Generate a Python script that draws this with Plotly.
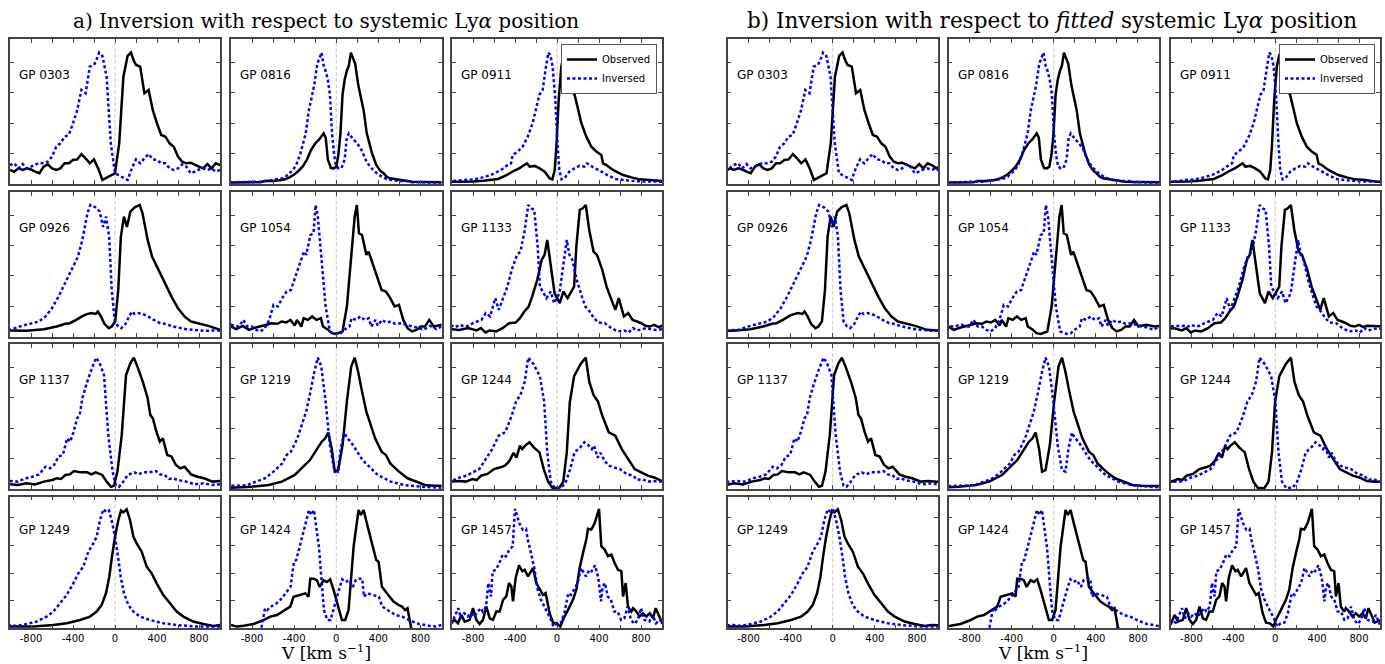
import plotly.graph_objects as go

# ---------------- data (velocity in km/s, flux normalised to panel height) ----------------
names = ['GP 0303', 'GP 0816', 'GP 0911', 'GP 0926', 'GP 1054', 'GP 1133',
         'GP 1137', 'GP 1219', 'GP 1244', 'GP 1249', 'GP 1424', 'GP 1457']
# offset of fitted systemic position (km/s) used in panel group b)
shifts = [-59, -42, -26, -105, -121, -125, -92, -97, -124, -63, -100, -50]

v0303 = [-1000,-960,-920,-880,-840,-800,-760,-720,-680,-640,-600,-560,-520,-480,-440,-400,-360,-320,-280,-240,-200,-160,-120,-80,-40,0,40,80,120,152,180,200,240,280,320,360,400,440,480,520,560,600,640,680,720,760,800,840,880,920,960,1000,1040,1080,1120,1160]
f0303 = [.097,.085,.108,.097,.108,.100,.085,.074,.120,.136,.108,.097,.108,.143,.143,.166,.170,.207,.177,.143,.170,.108,.028,.044,.062,.074,.281,.742,.885,.908,.850,.823,.811,.627,.650,.510,.420,.339,.327,.281,.258,.189,.154,.143,.147,.131,.120,.108,.138,.108,.143,.131,.110,.120,.100,.110]

v0816 = [-1000,-900,-800,-720,-680,-600,-520,-480,-440,-400,-360,-320,-280,-240,-200,-160,-120,-100,-80,-50,-25,0,20,40,60,80,100,120,139,160,180,210,240,260,290,320,340,380,420,450,480,510,560,600,660,720,800,880,960,1000,1080,1160]
f0816 = [.010,.012,.010,.012,.020,.020,.028,.035,.048,.065,.090,.120,.166,.235,.280,.310,.350,.320,.170,.110,.108,.120,.200,.350,.620,.720,.780,.820,.908,.870,.830,.680,.580,.510,.350,.260,.212,.131,.090,.074,.050,.039,.032,.028,.022,.016,.014,.010,.012,.010,.010,.010]

v0911 = [-1000,-900,-800,-700,-640,-560,-480,-440,-400,-360,-320,-286,-260,-213,-165,-117,-70,-44,-22,-6,16,41,63,83,105,137,168,200,232,279,327,375,422,438,470,533,629,708,787,883,1000,1080,1160]
f0911 = [.016,.016,.018,.022,.028,.035,.062,.080,.095,.108,.125,.143,.120,.125,.108,.085,.039,.032,.097,.259,.580,.810,.890,.908,.810,.650,.616,.510,.420,.327,.258,.224,.200,.143,.131,.097,.062,.046,.032,.028,.016,.015,.015]

v0926 = [-1000,-843,-678,-555,-472,-431,-369,-307,-266,-225,-184,-163,-134,-101,-60,-31,2,31,56,85,113,146,188,235,262,311,353,414,476,538,600,662,724,806,889,1000,1080,1160]
f0926 = [.042,.040,.051,.069,.088,.092,.115,.143,.155,.162,.157,.173,.139,.088,.058,.069,.104,.323,.693,.831,.760,.866,.896,.912,.855,.670,.554,.462,.370,.277,.196,.139,.104,.088,.074,.046,.042,.040]

v1054 = [-1000,-950,-889,-830,-765,-720,-662,-620,-559,-520,-476,-435,-394,-373,-332,-310,-270,-229,-188,-146,-126,-85,-43,-2,60,101,142,175,196,216,245,286,307,328,369,431,472,513,555,596,637,678,720,761,802,843,884,926,1000,1080,1160]
f1054 = [.069,.051,.074,.046,.062,.069,.081,.092,.088,.104,.097,.115,.076,.115,.069,.127,.115,.139,.115,.127,.069,.051,.023,.018,.035,.208,.577,.831,.912,.716,.704,.566,.589,.543,.462,.323,.312,.266,.208,.219,.115,.058,.035,.046,.069,.069,.115,.069,.081,.070,.075]

v1133 = [-1000,-930,-847,-765,-724,-682,-640,-579,-518,-456,-394,-353,-311,-270,-237,-188,-146,-118,-93,-64,-23,27,60,101,163,184,217,245,274,307,348,381,431,472,513,555,588,608,637,678,720,761,802,843,884,926,967,1000,1080,1160]
f1133 = [.051,.046,.058,.042,.058,.028,.042,.035,.058,.092,.097,.127,.173,.208,.277,.393,.531,.566,.670,.508,.300,.231,.312,.266,.346,.624,.878,.889,.912,.739,.589,.566,.462,.346,.266,.185,.266,.219,.139,.162,.115,.104,.092,.074,.069,.081,.065,.074,.070,.070]

v1137 = [-1000,-926,-843,-761,-678,-596,-555,-514,-472,-431,-390,-328,-266,-225,-184,-122,-80,-39,-10,23,64,105,146,179,220,270,311,336,361,394,427,456,497,538,580,621,662,724,786,847,930,1000,1080,1160]
f1137 = [.032,.028,.039,.032,.051,.062,.074,.069,.097,.101,.124,.115,.115,.101,.115,.097,.051,.016,.023,.120,.373,.788,.869,.908,.834,.730,.627,.512,.488,.396,.327,.350,.235,.224,.166,.143,.154,.101,.085,.074,.051,.055,.050,.050]

v1219 = [-1000,-806,-641,-517,-394,-311,-250,-188,-138,-105,-76,-43,-14,19,60,101,142,175,208,245,286,328,369,431,472,513,596,678,761,843,926,1000,1080,1160]
f1219 = [.009,.016,.028,.051,.097,.154,.200,.270,.327,.350,.390,.280,.120,.131,.304,.604,.846,.908,.811,.673,.535,.442,.350,.258,.235,.177,.120,.074,.051,.028,.023,.023,.020,.020]

v1244 = [-1000,-930,-868,-806,-765,-724,-662,-600,-538,-497,-456,-414,-386,-353,-332,-303,-262,-221,-167,-126,-85,-43,19,60,93,122,163,225,274,307,348,390,431,493,555,617,678,740,802,864,926,1000,1080,1160]
f1244 = [.051,.055,.051,.069,.062,.092,.104,.138,.150,.161,.190,.250,.217,.300,.276,.300,.323,.288,.253,.138,.051,.009,.005,.051,.253,.600,.780,.864,.908,.742,.650,.604,.507,.392,.369,.276,.207,.138,.115,.092,.080,.055,.050,.050]

v1249 = [-1000,-778,-587,-460,-333,-238,-175,-127,-86,-54,-29,0,32,57,79,111,143,175,206,254,302,349,397,460,524,587,651,746,841,937,1000,1080,1160]
f1249 = [.013,.013,.025,.038,.063,.089,.127,.177,.266,.392,.544,.696,.823,.894,.881,.904,.823,.696,.646,.582,.468,.418,.342,.253,.190,.127,.089,.051,.033,.018,.025,.020,.020]

v1424 = [-1000,-943,-880,-785,-690,-627,-563,-500,-437,-405,-342,-294,-263,-247,-215,-184,-158,-120,-89,-57,-25,22,54,85,117,165,212,234,260,291,339,380,402,434,481,544,592,624,655,677,709,740,800,900,1000,1080,1160]
f1424 = [.025,.013,.020,.033,.063,.089,.101,.134,.165,.240,.253,.266,.240,.377,.377,.365,.314,.365,.352,.372,.290,.165,.063,.063,.139,.620,.899,.861,.899,.797,.646,.519,.506,.316,.266,.203,.177,.165,.139,.152,.013,-.050,-.080,-.080,-.080,-.080,-.080]

v1457 = [-1000,-975,-943,-911,-879,-832,-800,-768,-737,-705,-673,-641,-610,-578,-546,-514,-483,-457,-435,-419,-394,-362,-330,-308,-276,-229,-197,-165,-133,-108,-70,-38,0,32,63,105,152,184,216,248,279,295,327,359,375,400,422,454,486,518,549,581,613,629,654,676,708,724,756,787,819,851,883,914,940,978,1000,1080,1160]
f1457 = [.051,.064,.038,.102,.051,.064,.153,.064,.033,.064,.165,.076,.064,.127,.127,.216,.242,.344,.318,.204,.382,.478,.433,.445,.394,.458,.344,.293,.254,.267,.115,.043,.038,.013,.076,.140,.216,.293,.458,.573,.674,.756,.750,.800,.840,.908,.623,.598,.547,.560,.496,.445,.433,.242,.344,.165,.127,.153,.127,.089,.115,.089,.115,.076,.153,.089,.043,.070,.070]

vels = [v0303, v0816, v0911, v0926, v1054, v1133, v1137, v1219, v1244, v1249, v1424, v1457]
fluxes = [f0303, f0816, f0911, f0926, f1054, f1133, f1137, f1219, f1244, f1249, f1424, f1457]
for a, b in zip(vels, fluxes):
    assert len(a) == len(b), (len(a), len(b))

tick_vals = [-800, -400, 0, 400, 800]
tick_text = ['-800', '-400', '0', '400', '800']

# ---------------- layout geometry (pixels) ----------------
W, H = 1385, 664
cols_a = [(10, 220), (231, 441.5), (452, 662)]
cols_b = [(727.5, 938), (948.5, 1159), (1170.5, 1380)]
rows = [(39.3, 184), (192.3, 336.5), (344.3, 489), (496.7, 628.3)]

FRAME = '#444444'
fig = go.Figure()
layout = {}
shapes = []
annotations = []

for g in range(2):
    cols = cols_a if g == 0 else cols_b
    for r in range(4):
        for c in range(3):
            k = r * 3 + c
            n = g * 12 + k + 1
            s = '' if n == 1 else str(n)
            x0, x1 = cols[c]
            y0, y1 = rows[r]
            layout['xaxis' + s] = dict(
                domain=[x0 / W, x1 / W], anchor='y' + s, range=[-1000, 1000],
                tickmode='array', tickvals=tick_vals, ticktext=tick_text,
                showticklabels=(r == 3),
                ticks='inside', ticklen=4, tickwidth=1, tickcolor=FRAME,
                minor=dict(tickmode='linear', tick0=0, dtick=200, ticks='inside',
                           ticklen=4, tickwidth=1, tickcolor=FRAME, showgrid=False),
                showline=True, linecolor=FRAME, linewidth=1.5, mirror='allticks',
                showgrid=False, zeroline=False,
                tickfont=dict(family='DejaVu Sans', size=10, color='black'),
            )
            layout['yaxis' + s] = dict(
                domain=[1 - y1 / H, 1 - y0 / H], anchor='x' + s, range=[0, 1],
                tickmode='array', tickvals=[0.21, 0.42, 0.63, 0.84],
                showticklabels=False,
                ticks='inside', ticklen=4, tickwidth=1, tickcolor=FRAME,
                showline=True, linecolor=FRAME, linewidth=1.5, mirror='allticks',
                showgrid=False, zeroline=False,
            )
            shapes.append(dict(type='line', xref='x' + s, yref='y' + s + ' domain',
                               x0=0, x1=0, y0=0, y1=1, layer='below',
                               line=dict(color='#c8c8c8', width=1, dash='4px,2px')))
            annotations.append(dict(text=names[k], xref='x' + s + ' domain', yref='y' + s + ' domain',
                                    x=0.035, y=0.75, xanchor='left', yanchor='middle',
                                    showarrow=False,
                                    font=dict(family='DejaVu Sans', size=12, color='black')))
            sh = 0 if g == 0 else shifts[k]
            vx = [v + sh for v in vels[k]]
            inv = [-v for v in vx]
            leg = 'legend' if g == 0 else 'legend2'
            fig.add_trace(go.Scatter(x=vx, y=fluxes[k], mode='lines', name='Observed',
                                     xaxis='x' + s, yaxis='y' + s,
                                     line=dict(color='black', width=2.5),
                                     showlegend=(k == 2), legend=leg, hoverinfo='skip'))
            fig.add_trace(go.Scatter(x=inv, y=fluxes[k], mode='lines', name='Inversed',
                                     xaxis='x' + s, yaxis='y' + s,
                                     line=dict(color='#0000ff', width=2.5, dash='3px,2.5px'),
                                     showlegend=(k == 2), legend=leg, hoverinfo='skip'))

serif = 'DejaVu Serif'
annotations.append(dict(text='a) Inversion with respect to systemic Ly<i>α</i> position',
                        xref='paper', yref='paper', x=326 / W, y=1 - 21 / H,
                        xanchor='center', yanchor='middle', showarrow=False,
                        font=dict(family=serif, size=20, color='black')))
annotations.append(dict(text='b) Inversion with respect to <i>fitted</i> systemic Ly<i>α</i> position',
                        xref='paper', yref='paper', x=1052 / W, y=1 - 21 / H,
                        xanchor='center', yanchor='middle', showarrow=False,
                        font=dict(family=serif, size=21.5, color='black')))
for xc in (326, 1043):
    annotations.append(dict(text='V [km s<sup>−1</sup>]', xref='paper', yref='paper',
                            x=xc / W, y=0, xanchor='center', yanchor='bottom',
                            showarrow=False, borderpad=0,
                            font=dict(family=serif, size=17, color='black')))

legend_style = dict(xanchor='right', yanchor='top', bgcolor='white', bordercolor='#555555',
                    borderwidth=1, font=dict(family='DejaVu Sans', size=10, color='black'),
                    itemwidth=30, tracegroupgap=0)
layout['legend'] = dict(x=657 / W, y=1 - 44 / H, **legend_style)
layout['legend2'] = dict(x=1375 / W, y=1 - 44 / H, **legend_style)

fig.update_layout(**layout)
fig.update_layout(width=W, height=H, margin=dict(l=0, r=0, t=0, b=0),
                  paper_bgcolor='white', plot_bgcolor='white',
                  shapes=shapes, annotations=annotations, showlegend=True)
fig.write_html('out.html')
